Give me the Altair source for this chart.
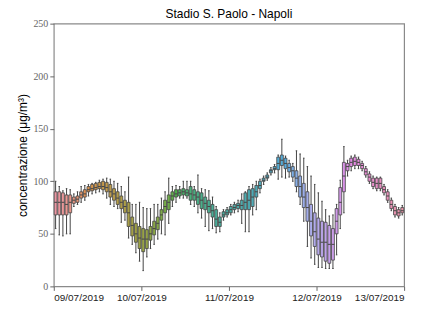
import math
import colorsys
import json
import altair as alt
import pandas as pd

# ---------------- data ----------------
date_labels = ["09/07/2019", "10/07/2019", "11/07/2019", "12/07/2019", "13/07/2019"]
tick_hours = [0, 24, 48, 72, 96]

lo = [55, 49, 48, 50, 50, 76, 78, 80, 82, 86, 88, 89, 90, 88, 84, 78, 76, 74, 61, 63, 46, 40, 32, 24,
      15, 28, 36, 40, 45, 50, 49, 60, 76, 80, 84, 84, 84, 78, 76, 70, 65, 57, 53, 55, 51, 52, 63, 66,
      68, 70, 71, 60, 52, 52, 68, 73, 89, 97, 101, 106, 108, 102, 104, 103, 104, 100, 90, 78, 62, 38, 27, 21,
      18, 18, 17, 17, 17, 30, 55, 70, 105, 110, 112, 112, 110, 104, 98, 93, 91, 91, 87, 80, 72, 66, 65, 68]
q1 = [68, 68, 68, 68, 70, 79, 80, 84, 85, 90, 91, 92, 93, 92, 90, 85, 82, 78, 74, 70, 57, 48, 42, 36,
      33, 36, 44, 49, 54, 63, 70, 73, 82, 85, 86, 87, 86, 82, 82, 78, 74, 73, 70, 66, 57, 57, 66, 68,
      70, 73, 74, 73, 73, 73, 76, 85, 93, 100, 103, 108, 111, 111, 115, 112, 109, 104, 95, 85, 75, 62, 48, 38,
      30, 28, 24, 22, 25, 50, 68, 90, 110, 114, 115, 115, 112, 106, 100, 95, 93, 93, 89, 82, 74, 68, 67, 70]
med = [80, 80, 80, 78, 80, 82, 83, 87, 88, 92, 93, 94, 95, 95, 94, 90, 88, 84, 80, 76, 70, 58, 50, 46,
       45, 45, 50, 55, 60, 68, 76, 80, 86, 88, 89, 90, 89, 88, 87, 85, 82, 79, 76, 72, 64, 61, 68, 70,
       73, 75, 77, 77, 80, 82, 85, 90, 96, 101, 104, 110, 112, 117, 120, 117, 113, 110, 103, 95, 85, 75, 62, 52,
       45, 42, 42, 40, 40, 62, 80, 105, 114, 118, 119, 118, 115, 109, 104, 99, 98, 98, 92, 86, 78, 72, 70, 72]
q3 = [90, 90, 89, 87, 87, 85, 86, 90, 92, 95, 97, 98, 99, 100, 99, 97, 93, 90, 86, 82, 80, 66, 60, 57,
      55, 54, 57, 62, 66, 73, 82, 87, 90, 92, 92, 93, 92, 95, 92, 90, 89, 85, 82, 78, 73, 66, 71, 73,
      76, 78, 79, 82, 89, 92, 93, 96, 100, 103, 106, 111, 114, 123, 125, 122, 117, 114, 110, 105, 98, 90, 78, 70,
      65, 62, 61, 58, 55, 74, 94, 118, 117, 122, 123, 121, 117, 112, 107, 103, 103, 103, 95, 90, 82, 76, 73, 75]
hi = [100, 95, 91, 93, 92, 88, 90, 95, 96, 97, 98, 99, 101, 102, 103, 102, 100, 98, 95, 90, 104, 78, 78, 80,
      75, 74, 74, 78, 78, 84, 90, 103, 95, 96, 95, 100, 100, 100, 95, 106, 93, 92, 91, 85, 76, 70, 73, 75,
      78, 80, 82, 88, 90, 95, 97, 100, 102, 105, 108, 113, 116, 125, 140, 124, 120, 117, 129, 126, 122, 114, 105, 97,
      89, 81, 73, 67, 68, 78, 101, 133, 120, 124, 125, 123, 119, 114, 109, 105, 104, 104, 97, 92, 84, 78, 75, 77]

hours = list(range(len(med)))

# ---------------- seaborn-like husl palette ----------------
_M = [[3.240969941904521, -1.537383177570093, -0.498610760293],
      [-0.96924363628087, 1.87596750150772, 0.041555057407175],
      [0.055630079696993, -0.20397695888897, 1.056971514242878]]
_refU, _refV = 0.19783000664283, 0.46831999493879
_kappa, _eps = 903.2962962, 0.0088564516


def _bounds(L):
    res = []
    sub1 = ((L + 16) ** 3) / 1560896
    sub2 = sub1 if sub1 > _eps else L / _kappa
    for m1, m2, m3 in _M:
        for t in (0, 1):
            top1 = (284517 * m1 - 94839 * m3) * sub2
            top2 = (838422 * m3 + 769860 * m2 + 731718 * m1) * L * sub2 - 769860 * t * L
            bottom = (632260 * m3 - 126452 * m2) * sub2 + 126452 * t
            res.append((top1 / bottom, top2 / bottom))
    return res


def _maxc(L, H):
    hr = math.radians(H)
    best = float("inf")
    for slope, inter in _bounds(L):
        length = inter / (math.sin(hr) - slope * math.cos(hr))
        if length >= 0:
            best = min(best, length)
    return best


def husl_to_rgb(H, S, L):
    C = _maxc(L, H) / 100 * S
    hr = math.radians(H)
    u, v = C * math.cos(hr), C * math.sin(hr)
    Y = L / _kappa if L <= 8 else ((L + 16) / 116) ** 3
    vu = u / (13 * L) + _refU
    vv = v / (13 * L) + _refV
    X = 0 - (9 * Y * vu) / ((vu - 4) * vv - vu * vv)
    Z = (9 * Y - 15 * vv * Y - vv * X) / (3 * vv)
    out = []
    for row in _M:
        c = row[0] * X + row[1] * Y + row[2] * Z
        c = 12.92 * c if c <= 0.0031308 else 1.055 * c ** (1 / 2.4) - 0.055
        out.append(min(1, max(0, c)))
    return out


def husl_palette(n, h=0.01, s=0.9, l=0.7):
    cols = []
    for i in range(n):
        hue = ((i / n + h) % 1) * 359
        cols.append(husl_to_rgb(hue, s * 99, l * 99))
    return cols


def desat(c, p):
    hh, ll, ss = colorsys.rgb_to_hls(*c)
    return colorsys.hls_to_rgb(hh, ll, ss * p)


def to_hex(c):
    return "#%02x%02x%02x" % tuple(int(round(v * 255)) for v in c)


pal = [desat(c, 0.75) for c in husl_palette(len(hours))]
lum = min(colorsys.rgb_to_hls(*c)[1] for c in pal) * 0.6
edge = to_hex((lum, lum, lum))
box_colors = [to_hex(c) for c in pal]

df = pd.DataFrame({"hour": hours, "lo": lo, "q1": q1, "med": med, "q3": q3, "hi": hi})

label_expr = json.dumps(date_labels) + "[round(datum.value / 24)]"

xscale = alt.Scale(domain=[0, 96], nice=False, zero=False)
yscale = alt.Scale(domain=[0, 250], nice=False)

base = alt.Chart(df).transform_calculate(
    xc="datum.hour + 0.5",
    x0="datum.hour + 0.1",
    x1="datum.hour + 0.9",
    c0="datum.hour + 0.3",
    c1="datum.hour + 0.7",
)

xaxis = alt.Axis(values=tick_hours, labelExpr=label_expr, title=None, grid=False)
yaxis = alt.Axis(values=[0, 50, 100, 150, 200, 250], title="concentrazione (μg/m³)", grid=False)

whisk = base.mark_rule(color=edge, strokeWidth=1).encode(
    x=alt.X("xc:Q", scale=xscale, axis=xaxis),
    y=alt.Y("lo:Q", scale=yscale, axis=yaxis),
    y2="hi:Q",
)
cap_lo = base.mark_rule(color=edge, strokeWidth=1).encode(x="c0:Q", x2="c1:Q", y="lo:Q")
cap_hi = base.mark_rule(color=edge, strokeWidth=1).encode(x="c0:Q", x2="c1:Q", y="hi:Q")
box = base.mark_bar(stroke=edge, strokeWidth=0.8).encode(
    x="x0:Q", x2="x1:Q", y="q1:Q", y2="q3:Q",
    color=alt.Color("hour:N", scale=alt.Scale(domain=hours, range=box_colors), legend=None),
)
median = base.mark_rule(color=edge, strokeWidth=1).encode(x="x0:Q", x2="x1:Q", y="med:Q")

chart = alt.layer(whisk, cap_lo, cap_hi, box, median).properties(
    width=352,
    height=264,
    title=alt.TitleParams("Stadio S. Paolo - Napoli", font="Liberation Sans", fontSize=12,
                          fontWeight="normal", color="#000", offset=-2),
    autosize=alt.AutoSizeParams(type="none"),
    padding={"left": 46, "top": 15, "right": 22, "bottom": 20},
).configure_view(
    stroke="#8a8a8a", strokeWidth=1.2
).configure_axis(
    domain=False, tickColor="#666", tickSize=4, tickWidth=1,
).configure_axisX(
    labelFont="Liberation Sans", labelFontSize=10, labelColor="#222", labelPadding=2,
).configure_axisY(
    labelFont="Liberation Serif", labelFontSize=10, labelColor="#666", labelPadding=2,
    titleFont="Liberation Sans", titleFontSize=12, titleFontWeight="normal", titleColor="#000",
    titlePadding=3,
)

chart.save("out.html", embed_options={"renderer": "svg", "actions": False})
